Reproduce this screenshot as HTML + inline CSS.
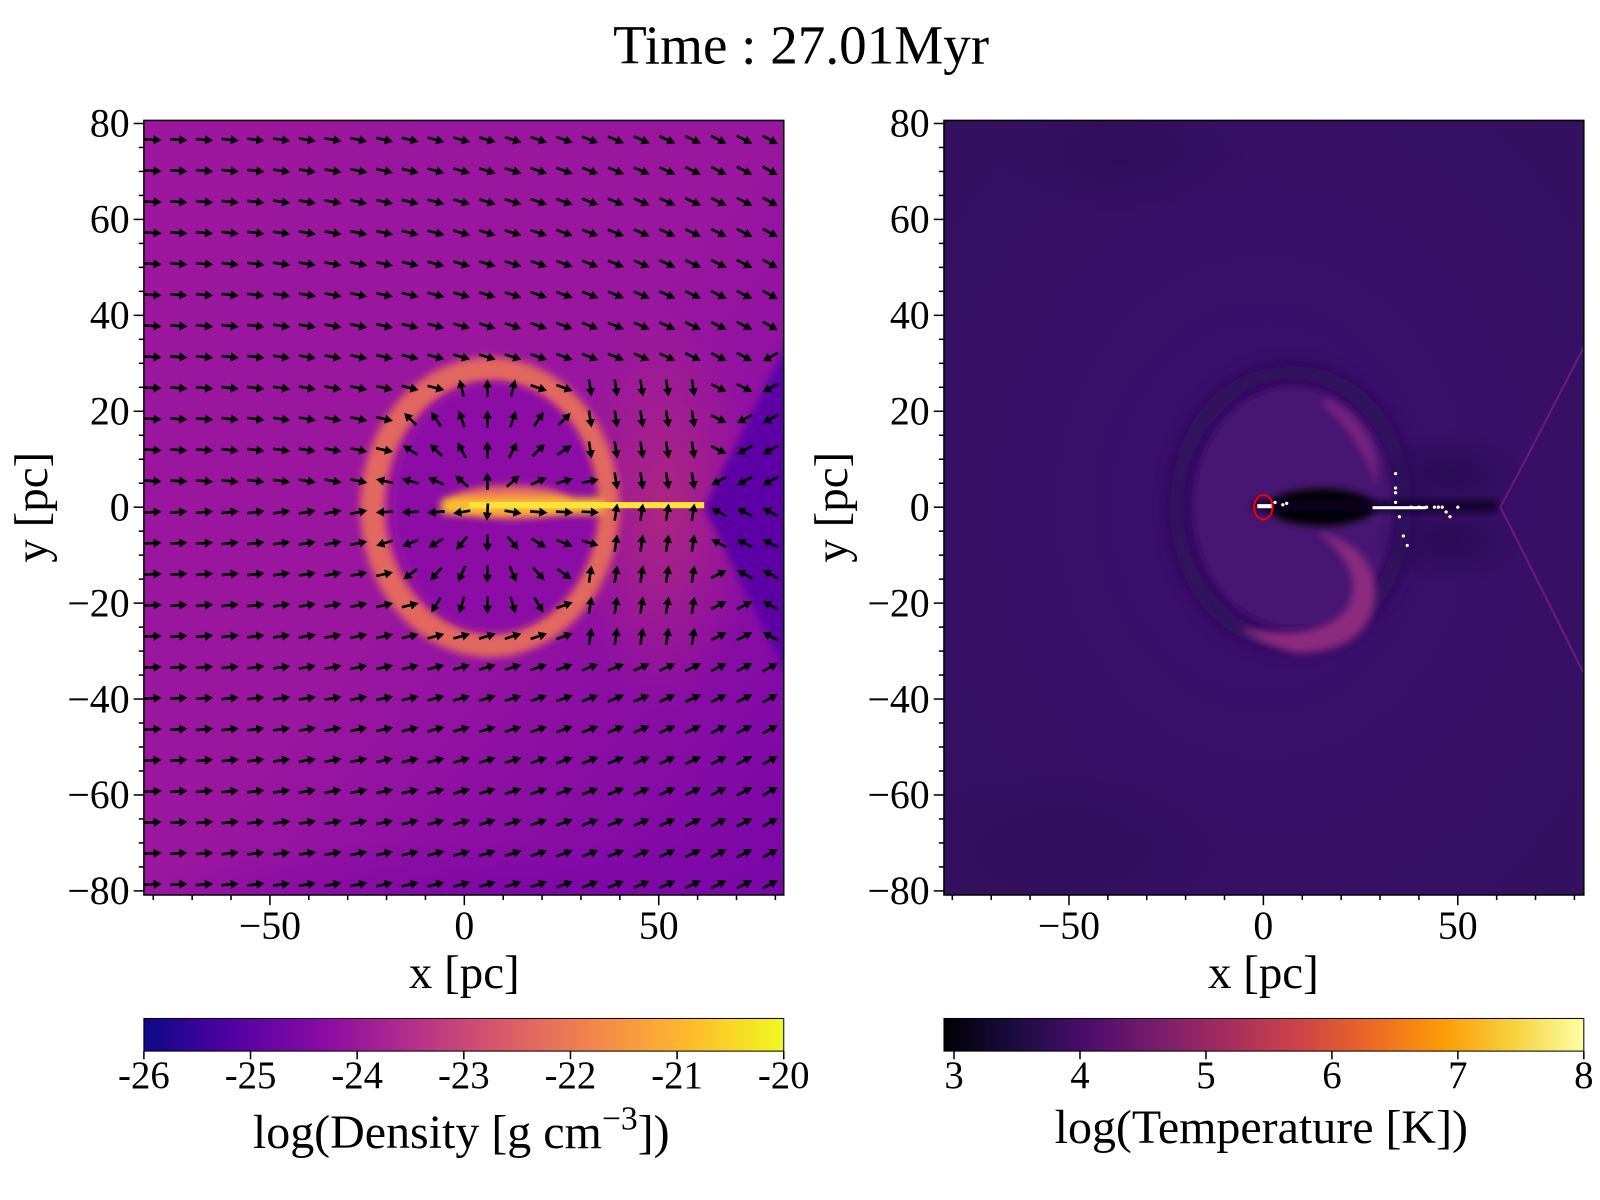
<!DOCTYPE html>
<html><head><meta charset="utf-8"><style>
html,body{margin:0;padding:0;background:#fff;}
svg{display:block;font-family:"Liberation Serif","DejaVu Serif",serif;}
</style></head><body>
<svg id="fig" width="1600" height="1200" viewBox="0 0 1600 1200" xmlns="http://www.w3.org/2000/svg">
<defs>
  <linearGradient id="plasma" x1="0" x2="1" y1="0" y2="0">
    <stop offset="0" stop-color="#0d0887"/><stop offset="0.14" stop-color="#5302a3"/>
    <stop offset="0.28" stop-color="#8b0aa5"/><stop offset="0.43" stop-color="#b83289"/>
    <stop offset="0.57" stop-color="#db5c68"/><stop offset="0.71" stop-color="#f48849"/>
    <stop offset="0.86" stop-color="#febd2a"/><stop offset="1" stop-color="#f0f921"/>
  </linearGradient>
  <linearGradient id="inferno" x1="0" x2="1" y1="0" y2="0">
    <stop offset="0" stop-color="#000004"/><stop offset="0.11" stop-color="#1b0c41"/>
    <stop offset="0.22" stop-color="#4a0c6b"/><stop offset="0.33" stop-color="#781c6d"/>
    <stop offset="0.44" stop-color="#a52c60"/><stop offset="0.56" stop-color="#cf4446"/>
    <stop offset="0.67" stop-color="#ed6925"/><stop offset="0.78" stop-color="#fb9b06"/>
    <stop offset="0.89" stop-color="#f7d13d"/><stop offset="1" stop-color="#fcffa4"/>
  </linearGradient>
  <linearGradient id="leftBg" x1="0" y1="0" x2="1" y2="1">
    <stop offset="0" stop-color="#9c179e"/><stop offset="0.5" stop-color="#9a169f"/><stop offset="1" stop-color="#7a06a8"/>
  </linearGradient>
  <radialGradient id="rightBg" cx="0.5" cy="0.5" r="0.7">
    <stop offset="0" stop-color="#3e0f72"/><stop offset="1" stop-color="#34105f"/>
  </radialGradient>
  <radialGradient id="darkBlob"><stop offset="0" stop-color="#2a0b52" stop-opacity="0.9"/><stop offset="1" stop-color="#2a0b52" stop-opacity="0"/></radialGradient>
  <radialGradient id="pinkBlob"><stop offset="0" stop-color="#b0287f" stop-opacity="0.9"/><stop offset="1" stop-color="#b0287f" stop-opacity="0"/></radialGradient>
  <radialGradient id="botBlob"><stop offset="0" stop-color="#7a06a8" stop-opacity="0.8"/><stop offset="1" stop-color="#7a06a8" stop-opacity="0"/></radialGradient>
  <filter id="b4" x="-50%" y="-50%" width="200%" height="200%"><feGaussianBlur stdDeviation="4"/></filter>
  <filter id="b10" x="-50%" y="-50%" width="200%" height="200%"><feGaussianBlur stdDeviation="10"/></filter>
  <clipPath id="clipL"><rect x="141" y="118" width="627" height="759"/></clipPath>
  <clipPath id="clipR"><rect x="925" y="118" width="627" height="759"/></clipPath>
</defs>
<g transform="scale(1.0205)">
<text x="785" y="62" font-size="54" text-anchor="middle">Time : 27.01Myr</text>

<!-- LEFT PANEL -->
<g clip-path="url(#clipL)">
  <rect x="141" y="118" width="627" height="759" fill="url(#leftBg)"/>
  <ellipse cx="500" cy="880" rx="380" ry="60" fill="url(#botBlob)"/>
  <ellipse cx="650" cy="497" rx="90" ry="200" fill="url(#pinkBlob)"/>
  <polygon points="690,497 790,300 790,700" fill="#5c01a6" filter="url(#b4)"/>
  <ellipse cx="480" cy="497" rx="115" ry="135" fill="none" stroke="#e2685f" stroke-width="24" filter="url(#b4)"/>
  <ellipse cx="485" cy="497" rx="100" ry="122" fill="#8c0ca5" filter="url(#b4)"/>
  <ellipse cx="500" cy="492" rx="60" ry="16" fill="#e8765a" filter="url(#b4)"/>
  <rect x="432" y="488" width="160" height="16" rx="6" fill="#fdc02a" filter="url(#b4)"/>
  <rect x="460" y="492" width="230" height="6" fill="#f7e53a"/>
</g>
<g id="quiver" clip-path="url(#clipL)"></g>
<rect x="141" y="118" width="627" height="759" fill="none" stroke="#000" stroke-width="1.5"/>
<g id="axesL"></g>

<!-- RIGHT PANEL -->
<g clip-path="url(#clipR)">
  <rect x="925" y="118" width="627" height="759" fill="url(#rightBg)"/>
  <ellipse cx="1100" cy="150" rx="120" ry="60" fill="url(#darkBlob)" opacity="0.6"/>
  <ellipse cx="1050" cy="830" rx="160" ry="80" fill="url(#darkBlob)" opacity="0.6"/>
  <ellipse cx="1265" cy="497" rx="112" ry="132" fill="none" stroke="#2a0b52" stroke-width="16" filter="url(#b10)"/>
  <ellipse cx="1268" cy="497" rx="98" ry="118" fill="#461372" filter="url(#b4)"/>
  <path d="M1290,520 Q1360,540 1345,600 Q1330,640 1270,640 Q1230,630 1215,615 Q1290,630 1320,595 Q1340,560 1290,520Z" fill="#8c2a80" filter="url(#b4)"/>
  <path d="M1300,390 Q1355,420 1350,480 Q1335,430 1295,395Z" fill="#7a2480" filter="url(#b4)"/>
  <ellipse cx="1420" cy="465" rx="80" ry="45" fill="url(#darkBlob)"/>
  <ellipse cx="1420" cy="530" rx="80" ry="45" fill="url(#darkBlob)"/>
  <ellipse cx="1295" cy="497" rx="52" ry="18" fill="#000004" filter="url(#b4)"/>
  <rect x="1228" y="491" width="240" height="10" fill="#100428" filter="url(#b4)"/>
  <path d="M1552,340 Q1480,480 1470,497 Q1480,515 1552,660" fill="none" stroke="#6a1a80" stroke-width="2"/>
  <ellipse cx="1238" cy="497" rx="9" ry="12" fill="none" stroke="#e00" stroke-width="2"/>
  <rect x="1232" y="494" width="14" height="4" fill="#fff"/>
  <rect x="1345" y="496" width="52" height="3" fill="#fff"/>
  <g id="stars" fill="#fff"></g>
</g>
<rect x="925" y="118" width="627" height="759" fill="none" stroke="#000" stroke-width="1.5"/>
<g id="axesR"></g>

<!-- COLORBARS -->
<rect x="141" y="998" width="627" height="32" fill="url(#plasma)" stroke="#000" stroke-width="1"/>
<rect x="925" y="998" width="627" height="32" fill="url(#inferno)" stroke="#000" stroke-width="1"/>
<g id="cbars"></g>
<text x="452" y="1125" font-size="47" text-anchor="middle">log(Density [g cm<tspan dy="-18" font-size="33">−3</tspan><tspan dy="18">])</tspan></text>
<text x="1236" y="1120" font-size="47" text-anchor="middle">log(Temperature [K])</text>
</g>
</svg>
<script>
const NS="http://www.w3.org/2000/svg";
const yTicks=[-80,-60,-40,-20,0,20,40,60,80];
const xTicks=[-50,0,50];
const densTicks=[-26,-25,-24,-23,-22,-21,-20];
const tempTicks=[3,4,5,6,7,8];
const starX=[34,34,34,34,35,36,37,38,40,42,44,45,46,47,48,50,3,5,6];
const starY=[7,4,3,1,-2,-6,-8,0,0,0,0,0,0,-1,-2,0,1,0.5,0.8];
// quiver field parameters
const ringCenter=[6,0];
const ringRadii=[33,31];
const wedgeX=[61];
function mk(tag,attrs,parent){const e=document.createElementNS(NS,tag);for(const k in attrs)e.setAttribute(k,attrs[k]);parent.appendChild(e);return e;}
function fmt(v){return v<0?"−"+Math.abs(v):String(v);}
function axes(gid,x0,x0px){
  const g=document.getElementById(gid);
  const X=v=>x0px+v*3.81, Y=v=>497-v*4.7;
  for(let v=-80;v<=80;v+=5){
    const major=v%20===0;
    const t=mk('line',{x1:x0-(major?10:5),x2:x0,y1:Y(v),y2:Y(v),stroke:'#000','stroke-width':1.5},g);
    
    
  }
  yTicks.forEach(v=>{const t=mk('text',{x:x0-14,y:Y(v)+13,'font-size':39,'text-anchor':'end'},g);t.textContent=fmt(v);
    
    });
  for(let v=-80;v<=80;v+=10){
    const major=v%50===0;
    const t=mk('line',{x1:X(v),x2:X(v),y1:877,y2:877+(major?10:5),stroke:'#000','stroke-width':1.5},g);
    
    
  }
  xTicks.forEach(v=>{const t=mk('text',{x:X(v),y:920,'font-size':39,'text-anchor':'middle'},g);t.textContent=fmt(v);
    
    });
  const xl=mk('text',{x:x0px,y:968,'font-size':46,'text-anchor':'middle'},g);xl.textContent='x [pc]';
  
  
  const yl=mk('text',{x:0,y:0,'font-size':46,'text-anchor':'middle',transform:`translate(${x0-95},497) rotate(-90)`},g);yl.textContent='y [pc]';
  
  
}
axes('axesL',141,455);
axes('axesR',925,1238);
const cb=document.getElementById('cbars');
densTicks.forEach(v=>{const x=141+(v+26)/6*627;
  const l=mk('line',{x1:x,x2:x,y1:1030,y2:1038,stroke:'#000','stroke-width':1.5},cb);
  
  
  const t=mk('text',{x:x,y:1066,'font-size':38,'text-anchor':'middle'},cb);t.textContent=String(v);
  
  });
tempTicks.forEach(v=>{const x=925+(v-2.92)/5.08*627;
  const l=mk('line',{x1:x,x2:x,y1:1030,y2:1038,stroke:'#000','stroke-width':1.5},cb);
  
  
  const t=mk('text',{x:x,y:1066,'font-size':38,'text-anchor':'middle'},cb);t.textContent=String(v);
  
  });
const sg=document.getElementById('stars');
starX.forEach((sx,i)=>{const c=mk('circle',{cx:1238+sx*3.81,cy:497-starY[i]*4.7,r:1.6},sg);
  
  });
const q=document.getElementById('quiver');
for(let py=137;py<=880;py+=30.4){
  for(let px=150;px<=770;px+=25.2){
    const x=(px-455)/3.81, y=(497-py)/4.7;
    const dx=(x-ringCenter[0])/ringRadii[0], dy=y/ringRadii[1];
    const r=Math.sqrt(dx*dx+dy*dy);
    let ang;
    const tilt=0.05+0.45*Math.max(0,(x+80)/160);
    if(x>wedgeX[0]&&Math.abs(y)<(x-wedgeX[0])*1.8){ang=Math.PI+(y>0?-0.5:0.5);}
    else if(r<0.85){
      ang=Math.atan2(-dy,dx);
    } else if(x>30&&x<=wedgeX[0]&&Math.abs(y)<30){ang=y>0?Math.PI/2-0.15:-Math.PI/2+0.15;}
    else{
      ang=y>=0?tilt:-tilt;
    }
    const L=17, c=Math.cos(ang), s=Math.sin(ang);
    const x1=px-c*L/2, y1=py-s*L/2, x2=px+c*L/2, y2=py+s*L/2;
    const g=mk('g',{},q);
    
    
    mk('line',{x1:x1,y1:y1,x2:x2-c*5,y2:y2-s*5,stroke:'#000','stroke-width':2.6},g);
    const hx=x2-c*8, hy=y2-s*8;
    mk('polygon',{points:`${x2},${y2} ${hx-s*4.5},${hy+c*4.5} ${hx+s*4.5},${hy-c*4.5}`,fill:'#000'},g);
  }
}
</script>
</body></html>
